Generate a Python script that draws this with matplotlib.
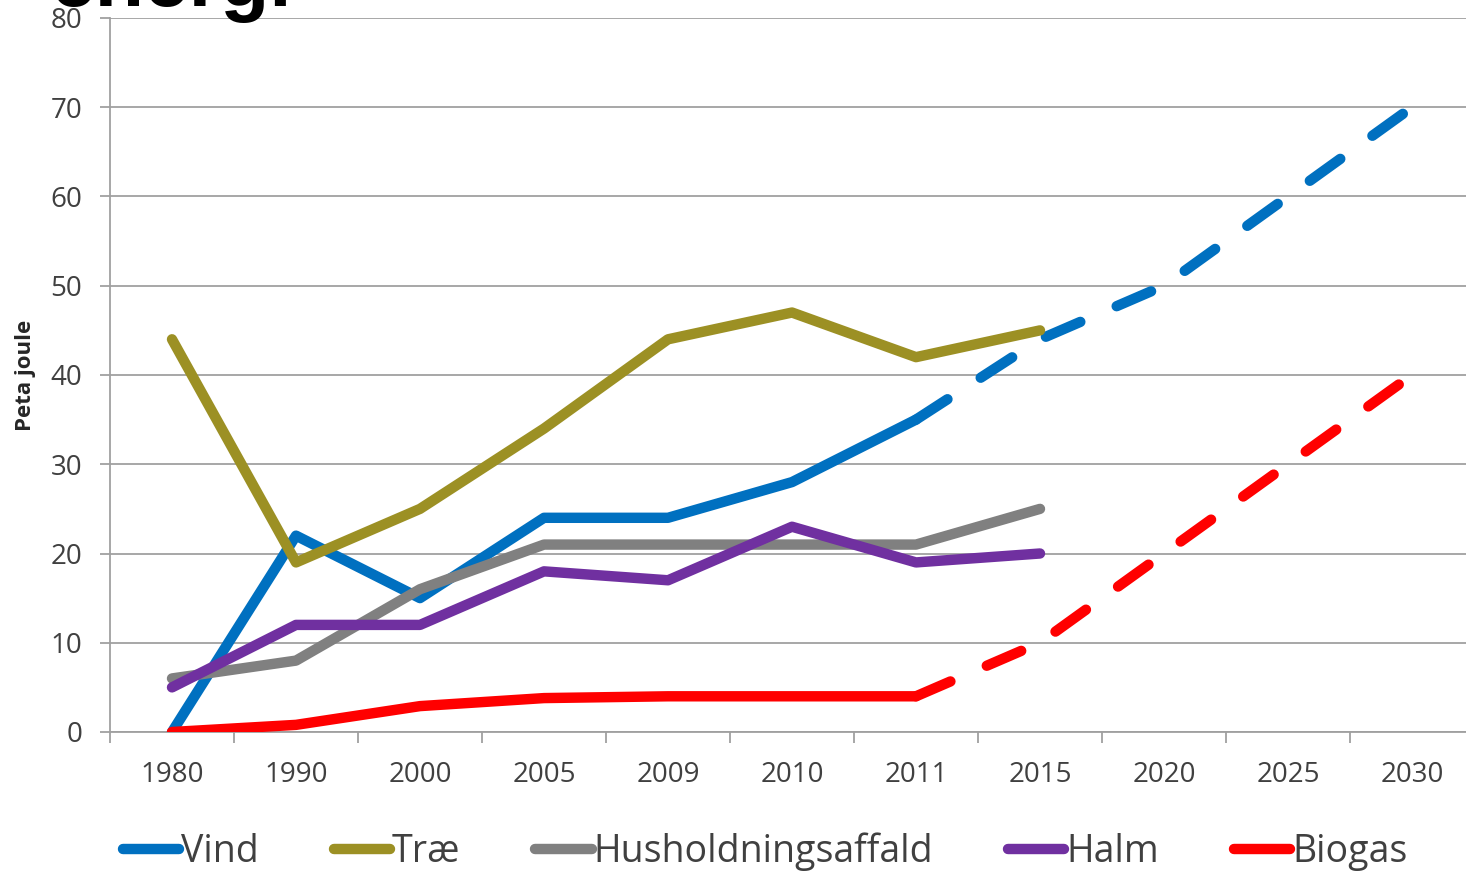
import numpy as np
import matplotlib
matplotlib.use("Agg")
import matplotlib.pyplot as plt
from matplotlib.lines import Line2D

# kategorier (år) og værdier i PJ
years = ["1980", "1990", "2000", "2005", "2009", "2010", "2011", "2015", "2020", "2025", "2030"]

vind = [0, 22, 15, 24, 24, 28, 35, 44, 50, 60, 70]
trae = [44, 19, 25, 34, 44, 47, 42, 45]
husholdning = [6, 8, 16, 21, 21, 21, 21, 25]
halm = [5, 12, 12, 18, 17, 23, 19, 20]
biogas = [0, 0.8, 2.9, 3.8, 4, 4, 4, 10, 20, 30, 40]

# index for sidste historiske år (2011) - derefter fremskrivning (stiplet)
split = 6

colors = {
    "Vind": "#0070C0",
    "Træ": "#9C9024",
    "Husholdningsaffald": "#808080",
    "Halm": "#7030A0",
    "Biogas": "#FF0000",
}

plt.rcParams['font.family'] = ['Open Sans', 'DejaVu Sans']

fig = plt.figure(figsize=(14.66, 8.72), dpi=100)
ax = fig.add_axes([110 / 1466, 1 - 732 / 872, 1364 / 1466, 714 / 872])

x = np.arange(len(years))
lw = 7.5

def draw(vals, name, forecast=False):
    c = colors[name]
    n = len(vals)
    if forecast:
        ax.plot(x[:split + 1], vals[:split + 1], color=c, lw=lw,
                solid_capstyle='round', solid_joinstyle='round', zorder=3)
        ax.plot(x[split:n], vals[split:], color=c, lw=lw, linestyle=(0, (3.6, 3.8)),
                dash_capstyle='round', dash_joinstyle='round', zorder=3)
    else:
        ax.plot(x[:n], vals, color=c, lw=lw,
                solid_capstyle='round', solid_joinstyle='round', zorder=3)

draw(vind, "Vind", forecast=True)
draw(trae, "Træ")
draw(husholdning, "Husholdningsaffald")
draw(halm, "Halm")
draw(biogas, "Biogas", forecast=True)

ax.set_xlim(-0.5, len(years) - 0.5)
ax.set_ylim(0, 80)
ax.set_yticks(range(0, 81, 10))
ax.yaxis.grid(True, color='#A0A0A0', lw=1.3)
ax.set_axisbelow(True)

ax.set_xticks(x)
ax.set_xticklabels(years)
ax.set_xticks(np.arange(-0.5, len(years)), minor=True)
ax.tick_params(axis='x', which='major', length=0, pad=21, labelsize=20, labelcolor='#404040')
ax.tick_params(axis='x', which='minor', length=8, width=1.3, color='#A0A0A0', direction='out')
ax.tick_params(axis='y', length=7, width=1.3, color='#A0A0A0', pad=13, labelsize=20,
               labelcolor='#404040')

for s in ['top', 'right']:
    ax.spines[s].set_visible(False)
for s in ['left', 'bottom']:
    ax.spines[s].set_color('#A0A0A0')
    ax.spines[s].set_linewidth(1.3)

fig.text(25 / 1466, 1 - 375 / 872, "Peta joule", rotation=90, ha='center', va='center',
         fontsize=16, fontweight='bold', color='#262626')

# titel - kun nederste del er synlig
fig.text(292 / 1466, 1 - 6 / 872, "energi", ha='right', va='baseline',
         fontsize=58, fontweight='bold', family=['Liberation Sans', 'DejaVu Sans'], color='black')

handles = [Line2D([0], [0], color=colors[k], lw=lw, solid_capstyle='round') for k in colors]
fig.legend(handles, list(colors.keys()), loc='center', ncol=5,
           bbox_to_anchor=(765 / 1466, 1 - 852 / 872), frameon=False,
           fontsize=27, handlelength=1.5, handletextpad=0.05, columnspacing=2.0,
           labelcolor='#404040', borderaxespad=0)

plt.savefig('out.png', dpi=100)
